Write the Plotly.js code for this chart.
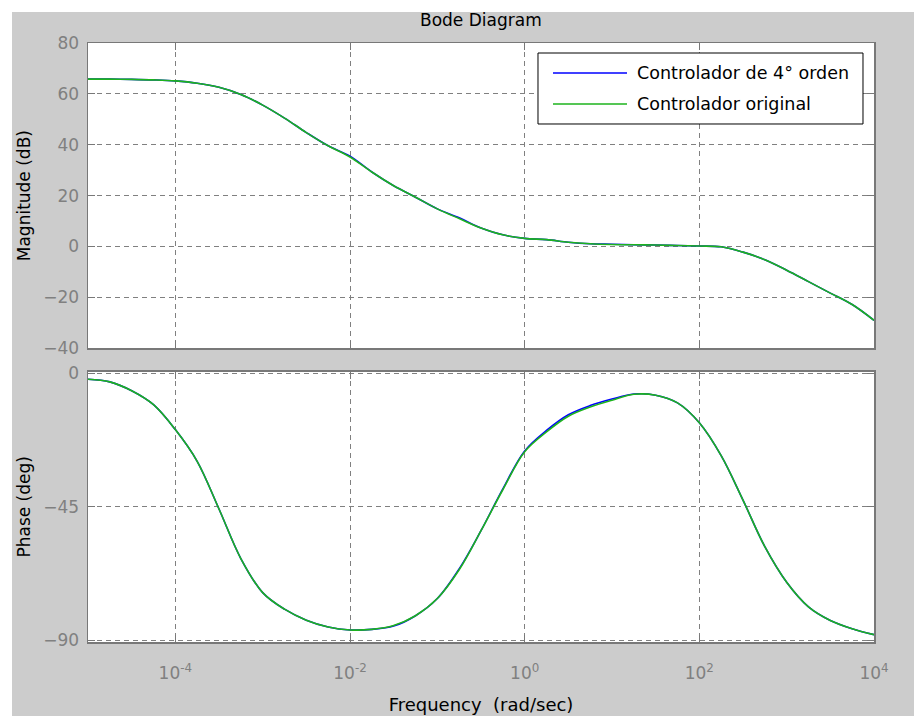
<!DOCTYPE html>
<html>
<head>
<meta charset="utf-8">
<script src="https://cdn.plot.ly/plotly-3.0.1.min.js"></script>
<style>
  html, body { margin: 0; padding: 0; background: #ffffff; width: 914px; height: 716px; overflow: hidden; }
  #figbg { position: absolute; left: 12px; top: 12px; width: 902px; height: 704px; background: #cccccc; }
  #chart { position: absolute; left: 0; top: 0; width: 914px; height: 716px; }
</style>
</head>
<body>
<div id="figbg"></div>
<div id="chart"></div>
<script>
// Frequencies (rad/sec)
const freq = [
  1e-5, 1.778e-5, 3.162e-5, 5.623e-5,
  1e-4, 1.778e-4, 3.162e-4, 5.623e-4,
  1e-3, 1.778e-3, 3.162e-3, 5.623e-3,
  1e-2, 1.778e-2, 3.162e-2, 5.623e-2,
  0.1, 0.1778, 0.3162, 0.5623,
  1, 1.778, 3.162, 5.623,
  10, 17.78, 31.62, 56.23,
  100, 177.8, 316.2, 562.3,
  1000, 1778, 3162, 5623,
  10000
];

// Controlador original (green)
const magOriginal = [
  65.8, 65.8, 65.7, 65.5,
  65.1, 64.2, 62.6, 59.8,
  55.6, 50.5, 44.8, 39.6,
  35.2, 29.3, 23.9, 19.4,
  14.8, 11.0, 7.3, 4.6,
  3.2, 2.7, 1.7, 1.1,
  0.8, 0.7, 0.6, 0.4,
  0.2, -0.1, -2.2, -5.2,
  -9.3, -13.8, -18.3, -22.8,
  -29.0
];
const phaseOriginal = [
  -2.0, -2.9, -5.9, -10.6,
  -19.0, -29.7, -45.8, -62.5,
  -74.0, -79.6, -83.3, -85.6,
  -86.6, -86.4, -85.1, -81.8,
  -76.0, -66.3, -53.1, -39.3,
  -26.5, -19.8, -14.5, -11.4,
  -9.1, -7.1, -7.4, -10.0,
  -16.7, -27.8, -42.8, -58.5,
  -70.5, -78.8, -83.4, -86.2,
  -88.2
];

// Controlador de 4° orden (blue)
const mag4th = [
  65.8, 65.8, 65.7, 65.5,
  65.1, 64.2, 62.6, 59.8,
  55.6, 50.5, 44.8, 39.6,
  35.5, 29.3, 23.9, 19.4,
  14.8, 11.3, 7.3, 4.6,
  3.2, 2.7, 1.7, 1.1,
  0.9, 0.7, 0.6, 0.4,
  0.2, -0.1, -2.2, -5.2,
  -9.3, -13.8, -18.3, -22.8,
  -29.0
];
const phase4th = [
  -2.0, -2.9, -5.9, -10.6,
  -19.0, -29.7, -45.8, -62.5,
  -74.0, -79.6, -83.3, -85.6,
  -86.6, -86.4, -85.3, -81.8,
  -76.0, -66.0, -53.1, -39.0,
  -26.2, -19.3, -14.0, -10.9,
  -8.7, -7.0, -7.4, -10.0,
  -16.7, -27.8, -42.8, -58.5,
  -70.5, -78.8, -83.4, -86.2,
  -88.2
];

const seriesNames = ['Controlador de 4\u00b0 orden', 'Controlador original'];
const seriesColors = ['#0000ff', '#1db31d'];

const xTickVals = [1e-4, 1e-2, 1, 1e2, 1e4];
const xTickText = ['10<sup>-4</sup>', '10<sup>-2</sup>', '10<sup>0</sup>', '10<sup>2</sup>', '10<sup>4</sup>'];
const magTickVals = [-40, -20, 0, 20, 40, 60, 80];
const phaseTickVals = [-90, -45, 0];

const titleText = 'Bode Diagram';
const xTitle = 'Frequency\u00a0\u00a0(rad/sec)';
const magTitle = 'Magnitude (dB)';
const phaseTitle = 'Phase (deg)';

const FONT = 'DejaVu Sans, Liberation Sans, Arial, sans-serif';
const GRID = '#808080';
const LINE = '#787878';

function mk(x, y, name, color, xa, ya) {
  return {
    x: x, y: y, name: name, type: 'scatter', mode: 'lines',
    xaxis: xa, yaxis: ya, showlegend: false,
    line: { color: color, width: 1.6, shape: 'spline', smoothing: 1.0 },
    hoverinfo: 'x+y'
  };
}

const data = [
  mk(freq, mag4th, seriesNames[0], seriesColors[0], 'x', 'y'),
  mk(freq, magOriginal, seriesNames[1], seriesColors[1], 'x', 'y'),
  mk(freq, phase4th, seriesNames[0], seriesColors[0], 'x2', 'y2'),
  mk(freq, phaseOriginal, seriesNames[1], seriesColors[1], 'x2', 'y2')
];

const commonX = {
  type: 'log', range: [-5, 4],
  tickvals: xTickVals, ticktext: xTickText,
  showgrid: true, gridcolor: GRID, gridwidth: 1, griddash: '5px,4px',
  zeroline: false, showline: true, linecolor: LINE, linewidth: 1.5, mirror: 'ticks',
  ticks: 'inside', ticklen: 7, tickcolor: LINE, tickwidth: 1
};
const commonY = {
  showgrid: true, gridcolor: GRID, gridwidth: 1, griddash: '5px,4px',
  zeroline: false, showline: true, linecolor: LINE, linewidth: 1.5, mirror: 'ticks',
  ticks: 'inside', ticklen: 7, tickcolor: LINE, tickwidth: 1,
  tickfont: { family: FONT, size: 17, color: '#808080' },
  ticklabelstandoff: 4
};

// legend geometry (paper coords)
const lgX0 = 0.5725, lgX1 = 0.986, lgY0 = 0.8648, lgY1 = 0.9833;
const rowY = [0.9499, 0.8982];
const lnX0 = 0.5916, lnX1 = 0.6858, txX = 0.6959;

const shapes = [
  { type: 'rect', xref: 'paper', yref: 'paper', x0: lgX0, x1: lgX1, y0: lgY0, y1: lgY1,
    fillcolor: '#ffffff', line: { color: '#000000', width: 1 }, layer: 'above' }
];
const annotations = [
  { text: titleText, xref: 'paper', yref: 'paper', x: 0.5, y: 1.0, yshift: 23, xanchor: 'center', yanchor: 'middle',
    showarrow: false, font: { family: FONT, size: 17, color: '#000000' } }
];
seriesNames.forEach(function (nm, i) {
  shapes.push({ type: 'line', xref: 'paper', yref: 'paper', x0: lnX0, x1: lnX1, y0: rowY[i], y1: rowY[i],
    line: { color: seriesColors[i], width: 1.6 }, layer: 'above' });
  annotations.push({ text: nm, xref: 'paper', yref: 'paper', x: txX, y: rowY[i], xanchor: 'left', yanchor: 'middle',
    showarrow: false, font: { family: FONT, size: 17.5, color: '#000000' } });
});

const layout = {
  width: 914, height: 716,
  margin: { l: 88, r: 40, t: 43, b: 74, pad: 0 },
  paper_bgcolor: 'rgba(0,0,0,0)', plot_bgcolor: '#ffffff',
  showlegend: false,
  xaxis: Object.assign({}, commonX, { anchor: 'y', showticklabels: false, domain: [0, 1] }),
  xaxis2: Object.assign({}, commonX, {
    anchor: 'y2', matches: 'x', showticklabels: true, domain: [0, 1],
    tickfont: { family: FONT, size: 17, color: '#808080' }, ticklabelstandoff: 15,
    title: { text: xTitle, font: { family: FONT, size: 18, color: '#000000' }, standoff: 16 }
  }),
  yaxis: Object.assign({}, commonY, {
    domain: [0.4903, 1], range: [-40, 80], tickvals: magTickVals,
    title: { text: magTitle, font: { family: FONT, size: 17, color: '#000000' }, standoff: 8 }
  }),
  yaxis2: Object.assign({}, commonY, {
    domain: [0, 0.4513], range: [-90.67, 0.54], tickvals: phaseTickVals,
    title: { text: phaseTitle, font: { family: FONT, size: 17, color: '#000000' }, standoff: 8 }
  }),
  shapes: shapes,
  annotations: annotations
};

Plotly.newPlot('chart', data, layout, { staticPlot: true, displayModeBar: false });
</script>
</body>
</html>
